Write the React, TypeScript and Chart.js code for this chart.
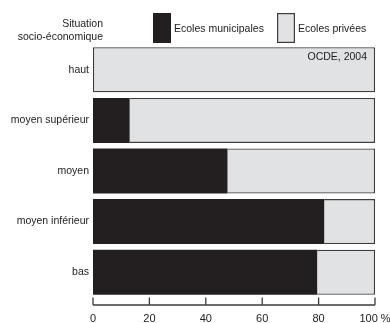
import React, { useEffect, useRef } from "react";
import { Chart, registerables } from "chart.js";

Chart.register(...registerables);

const categories = ["haut", "moyen supérieur", "moyen", "moyen inférieur", "bas"];
const municipales = [0, 13, 47.7, 82, 79.5];
const privees = [100, 87, 52.3, 18, 20.5];
const xTicks = [0, 20, 40, 60, 80, 100];
const legendLabels = ["Ecoles municipales", "Ecoles privées"];
const axisTitle = ["Situation", "socio-économique"];
const sourceNote = "OCDE, 2004";

const DARK = "#231f20";
const LIGHT = "#e1e2e4";
const EDGE = "#3c3c3c";
const FONT = "'Liberation Sans', Arial, Helvetica, sans-serif";

const decorPlugin = {
  id: "decor",
  afterDraw(chart: any) {
    const ctx = chart.ctx;
    const area = chart.chartArea;
    const xs = chart.scales.x;
    ctx.save();
    // axis line with inward ticks
    const axisY = area.bottom + 7.5;
    ctx.strokeStyle = EDGE;
    ctx.lineWidth = 1.3;
    ctx.beginPath();
    ctx.moveTo(xs.getPixelForValue(0), axisY);
    ctx.lineTo(xs.getPixelForValue(100), axisY);
    xTicks.forEach((v) => {
      const px = xs.getPixelForValue(v);
      ctx.moveTo(px, axisY);
      ctx.lineTo(px, axisY - 7.5);
    });
    ctx.stroke();

    // source note
    ctx.fillStyle = "#222";
    ctx.font = `10.5px ${FONT}`;
    ctx.textAlign = "right";
    ctx.textBaseline = "middle";
    ctx.fillText(sourceNote, area.right - 8, area.top + 13);

    // axis title
    ctx.fillText(axisTitle[0], 103, 24);
    ctx.fillText(axisTitle[1], 103, 37.5);

    // legend
    const items = [
      { x: 153, color: DARK, label: legendLabels[0] },
      { x: 277, color: LIGHT, label: legendLabels[1] },
    ];
    ctx.textAlign = "left";
    items.forEach((it) => {
      ctx.fillStyle = it.color;
      ctx.fillRect(it.x, 13, 18, 30);
      ctx.strokeStyle = it.color === DARK ? DARK : EDGE;
      ctx.lineWidth = 1.2;
      ctx.strokeRect(it.x + 0.6, 13.6, 16.8, 28.8);
      ctx.fillStyle = "#222";
      ctx.fillText(it.label, it.x + 21, 29);
    });
    ctx.restore();
  },
};

export default function App() {
  const ref = useRef<HTMLCanvasElement>(null);
  useEffect(() => {
    document.body.style.margin = "0";
    const chart = new Chart(ref.current as HTMLCanvasElement, {
      type: "bar",
      data: {
        labels: categories,
        datasets: [
          {
            label: legendLabels[0],
            data: municipales,
            backgroundColor: DARK,
            borderColor: DARK,
            borderWidth: 0,
            borderSkipped: false,
            barPercentage: 1,
            categoryPercentage: 0.89,
          },
          {
            label: legendLabels[1],
            data: privees,
            backgroundColor: LIGHT,
            borderColor: EDGE,
            borderWidth: (c: any) => ({
              top: 1.3,
              bottom: 1.3,
              right: 1.3,
              left: municipales[c.dataIndex] === 0 ? 1.3 : 0,
            }),
            borderSkipped: false,
            barPercentage: 1,
            categoryPercentage: 0.89,
          },
        ],
      },
      options: {
        indexAxis: "y",
        animation: false,
        responsive: false,
        maintainAspectRatio: false,
        layout: { padding: { top: 44.5, right: 15, left: 0, bottom: 0 } },
        plugins: { legend: { display: false }, tooltip: { enabled: false } },
        scales: {
          x: {
            stacked: true,
            min: 0,
            max: 100,
            grid: { display: false, drawTicks: false },
            border: { display: false },
            afterFit: (s: any) => {
              s.height = 25.5;
              s.paddingLeft = 0;
              s.paddingRight = 0;
            },
            afterBuildTicks: (s: any) => {
              s.ticks = xTicks.map((v) => ({ value: v }));
            },
            ticks: {
              padding: 15,
              color: "#222",
              font: { family: FONT, size: 11 },
              maxRotation: 0,
              callback: (v: any) => (v === 100 ? "100 %" : String(v)),
            },
          },
          y: {
            stacked: true,
            grid: { display: false, drawTicks: false },
            border: { display: false },
            afterFit: (s: any) => {
              s.width = 93;
              s.paddingTop = 0;
              s.paddingBottom = 0;
            },
            ticks: {
              padding: 4,
              color: "#222",
              font: { family: FONT, size: 10.5 },
            },
          },
        },
      },
      plugins: [decorPlugin],
    } as any);
    return () => chart.destroy();
  }, []);
  return (
    <div style={{ width: 390, height: 323, position: "relative", background: "#fff" }}>
      <canvas ref={ref} width={390} height={323} style={{ display: "block" }} />
    </div>
  );
}
